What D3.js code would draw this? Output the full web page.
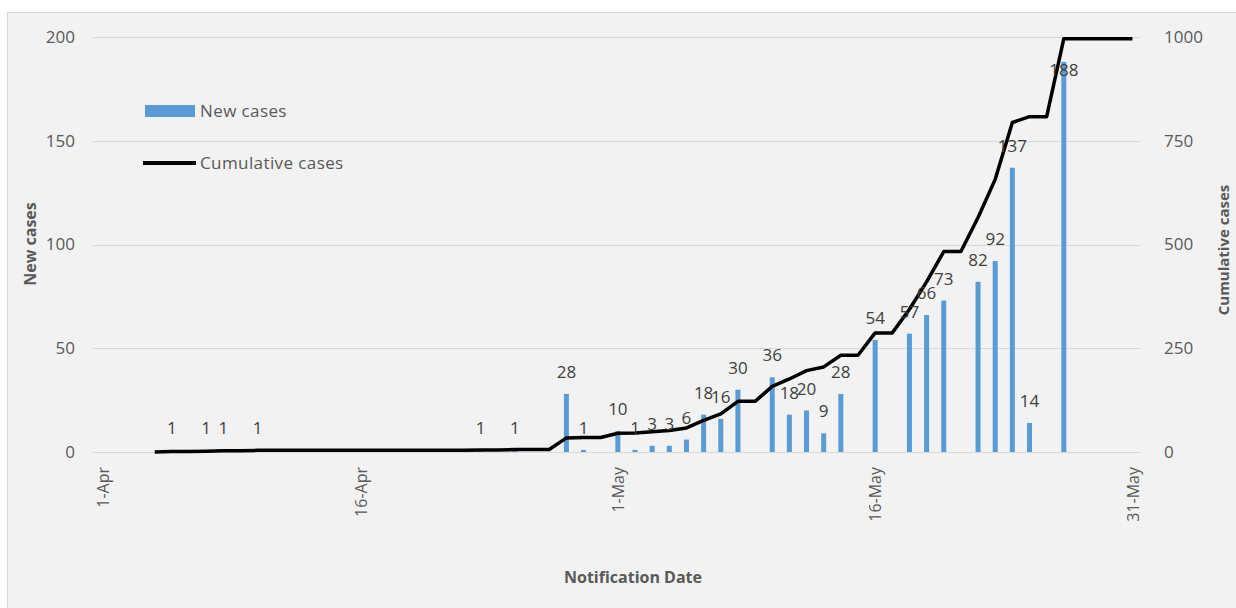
<!DOCTYPE html>
<html>
<head>
<meta charset="utf-8">
<script src="https://cdn.jsdelivr.net/npm/d3@7"></script>
<style>
  body { margin: 0; background: #fff; }
  text { font-family: "Open Sans", "DejaVu Sans", sans-serif; }
</style>
</head>
<body>
<div class="combochart"></div>
<script>
// New cases by notification date (only days with cases)
var caseDates = ["2020-04-05", "2020-04-07", "2020-04-08", "2020-04-10", "2020-04-23", "2020-04-25",
  "2020-04-28", "2020-04-29", "2020-05-01", "2020-05-02", "2020-05-03", "2020-05-04", "2020-05-05",
  "2020-05-06", "2020-05-07", "2020-05-08", "2020-05-10", "2020-05-11", "2020-05-12", "2020-05-13",
  "2020-05-14", "2020-05-16", "2020-05-18", "2020-05-19", "2020-05-20", "2020-05-22", "2020-05-23",
  "2020-05-24", "2020-05-25", "2020-05-27"];
var newCases = [1, 1, 1, 1, 1, 1,
  28, 1, 10, 1, 3, 3, 6,
  18, 16, 30, 36, 18, 20, 9,
  28, 54, 57, 66, 73, 82, 92,
  137, 14, 188];

// Cumulative cases, one value per day from 4-Apr to 31-May
var cumStart = "2020-04-04";
var cumulative = [0, 1, 1, 2, 3, 3, 4, 4, 4, 4, 4, 4, 4, 4, 4, 4, 4, 4, 4,
  5, 5, 6, 6, 6, 34, 35, 35,
  45, 46, 49, 52, 58, 76, 92, 122, 122, 158, 176, 196, 205, 233, 233,
  287, 287, 344, 410, 483, 483, 565, 657, 794, 808, 808, 996, 996, 996, 996, 996];

var xTickLabels = ["1-Apr", "16-Apr", "1-May", "16-May", "31-May"];
var leftTicks = [0, 50, 100, 150, 200];
var rightTicks = [0, 250, 500, 750, 1000];

var svgWidth = 1236;
var svgHeight = 608;

var margin = { top: 37, right: 95, bottom: 156, left: 93 };
var width = svgWidth - margin.left - margin.right;
var height = svgHeight - margin.top - margin.bottom;

var parseDate = d3.timeParse("%Y-%m-%d");
var fmtTick = d3.timeFormat("%-d-%b");
var day = 24 * 3600 * 1000;

var svg = d3.select(".combochart")
  .append("svg")
  .attr("width", svgWidth)
  .attr("height", svgHeight);

// chart background
svg.append("rect")
  .attr("x", 7.5).attr("y", 12.5)
  .attr("width", svgWidth - 7).attr("height", svgHeight - 12)
  .attr("fill", "#f2f2f2")
  .attr("stroke", "#d9d9d9");

var chartGroup = svg.append("g")
  .attr("transform", `translate(${margin.left}, ${margin.top})`);

var start = parseDate("2020-04-01");
var end = parseDate("2020-05-31");

var xScale = d3.scaleTime()
  .domain([new Date(+start - 0.6 * day), new Date(+end + 0.5 * day)])
  .range([0, width]);

var yLeft = d3.scaleLinear().domain([0, 200]).range([height, 0]);
var yRight = d3.scaleLinear().domain([0, 1000]).range([height, 0]);

// gridlines
chartGroup.selectAll(".grid")
  .data(leftTicks)
  .enter()
  .append("line")
  .attr("x1", 0).attr("x2", width)
  .attr("y1", d => Math.round(yLeft(d)) + 0.5)
  .attr("y2", d => Math.round(yLeft(d)) + 0.5)
  .attr("stroke", "#d9d9d9")
  .attr("stroke-width", 1.2);

// left axis
var leftAxis = d3.axisLeft(yLeft).tickValues(leftTicks).tickSize(0).tickPadding(18);
var gLeft = chartGroup.append("g").call(leftAxis);
gLeft.select(".domain").remove();
gLeft.selectAll("text")
  .attr("font-size", 17).attr("fill", "#595959")
  .attr("font-family", "'Open Sans', sans-serif");

// right axis
var rightAxis = d3.axisRight(yRight).tickValues(rightTicks).tickFormat(d3.format("d"))
  .tickSize(0).tickPadding(23);
var gRight = chartGroup.append("g")
  .attr("transform", `translate(${width}, 0)`)
  .call(rightAxis);
gRight.select(".domain").remove();
gRight.selectAll("text")
  .attr("font-size", 17).attr("fill", "#595959")
  .attr("font-family", "'Open Sans', sans-serif");

// bottom axis with rotated date labels
var tickDates = xTickLabels.map(function(s) {
  return d3.timeParse("%-d-%b-%Y")(s + "-2020");
});
var bottomAxis = d3.axisBottom(xScale)
  .tickValues(tickDates)
  .tickFormat(fmtTick)
  .tickSize(0);
var gBottom = chartGroup.append("g")
  .attr("transform", `translate(0, ${height})`)
  .call(bottomAxis);
gBottom.select(".domain").remove();
gBottom.selectAll("text")
  .attr("font-size", 16).attr("fill", "#595959")
  .attr("font-family", "'Open Sans', sans-serif")
  .attr("text-anchor", "end")
  .attr("transform", "rotate(-90)")
  .attr("x", -15).attr("y", 0).attr("dy", "0.35em");

// bars
var barData = caseDates.map(function(s, i) {
  return { date: parseDate(s), value: newCases[i] };
});
var barW = 5;

chartGroup.selectAll(".bar")
  .data(barData)
  .enter()
  .append("rect")
  .attr("x", d => xScale(d.date) - barW / 2)
  .attr("y", d => yLeft(d.value))
  .attr("width", barW)
  .attr("height", d => height - yLeft(d.value))
  .attr("fill", "#5b9bd5");

// cumulative line
var cumData = cumulative.map(function(v, i) {
  return { date: new Date(+parseDate(cumStart) + i * day), value: v };
});
var line = d3.line()
  .x(d => xScale(d.date))
  .y(d => yRight(d.value));

chartGroup.append("path")
  .datum(cumData)
  .attr("d", line)
  .attr("fill", "none")
  .attr("stroke", "#000")
  .attr("stroke-width", 3.5)
  .attr("stroke-linejoin", "round");

// data labels (outside end, falls back to inside end near the top)
chartGroup.selectAll(".label")
  .data(barData)
  .enter()
  .append("text")
  .attr("x", d => xScale(d.date))
  .attr("y", function(d) {
    var top = yLeft(d.value);
    return (top - 28 < 0) ? top + 14 : top - 16;
  })
  .attr("text-anchor", "middle")
  .attr("font-size", 17)
  .attr("fill", "#404040")
  .text(d => d.value);

// legend
var legend = svg.append("g");
legend.append("rect")
  .attr("x", 145).attr("y", 105)
  .attr("width", 50).attr("height", 12)
  .attr("fill", "#5b9bd5");
legend.append("text")
  .attr("x", 200).attr("y", 117)
  .attr("font-size", 17).attr("fill", "#595959")
  .attr("letter-spacing", 0.4)
  .text("New cases");
legend.append("line")
  .attr("x1", 143).attr("x2", 196)
  .attr("y1", 163).attr("y2", 163)
  .attr("stroke", "#000").attr("stroke-width", 4);
legend.append("text")
  .attr("x", 200).attr("y", 169)
  .attr("font-size", 17).attr("fill", "#595959")
  .attr("letter-spacing", 0.4)
  .text("Cumulative cases");

// axis titles
svg.append("text")
  .attr("transform", "translate(36, 244) rotate(-90)")
  .attr("text-anchor", "middle")
  .attr("font-size", 16).attr("font-weight", "bold")
  .attr("fill", "#595959")
  .text("New cases");

svg.append("text")
  .attr("transform", "translate(1229, 250) rotate(-90)")
  .attr("text-anchor", "middle")
  .attr("font-size", 15).attr("font-weight", "bold")
  .attr("fill", "#595959")
  .text("Cumulative cases");

svg.append("text")
  .attr("x", 633).attr("y", 583)
  .attr("text-anchor", "middle")
  .attr("font-size", 16).attr("font-weight", "bold")
  .attr("fill", "#595959")
  .text("Notification Date");
</script>
</body>
</html>
